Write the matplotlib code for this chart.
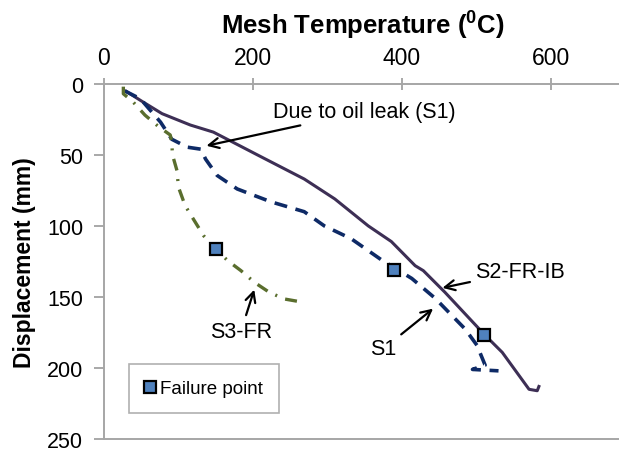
import matplotlib
matplotlib.use("Agg")
import matplotlib.pyplot as plt
from matplotlib.lines import Line2D

plt.rcParams['font.family'] = ['Liberation Sans', 'DejaVu Sans']
plt.rcParams['mathtext.fontset'] = 'custom'
plt.rcParams['mathtext.rm'] = 'Liberation Sans'
plt.rcParams['mathtext.bf'] = 'Liberation Sans:bold'

# S2-FR-IB (solid)
s2_temp = [28, 50, 78, 116, 147, 206, 269, 310, 355, 386, 418, 429, 458, 504, 517,
           535, 571, 582, 585]
s2_disp = [4.7, 12, 21, 29, 34, 50, 67, 81, 100, 111, 128, 131.5, 146.7, 172.5, 179.6,
           189, 215, 216, 212]

# S1 (dashed)
s1_temp = [28, 49, 76, 91, 112, 130, 136.5, 152, 179, 224, 269, 296, 332, 373, 413.5,
           445, 463, 485, 501, 512, 495, 530]
s1_disp = [5, 10.6, 27, 39, 44.6, 46, 53, 64.5, 74, 83, 90, 100, 109, 124, 137,
           151, 160.7, 172.5, 184, 198, 201, 202]

# S3-FR (dash-dot)
s3_temp = [26, 26, 39, 55, 73, 89, 91, 92, 98, 100, 109, 121, 134, 150, 166, 184,
           202, 222, 242, 267]
s3_disp = [2, 7, 12.7, 22, 30, 36, 41, 50, 61, 72.7, 85.7, 96, 107, 116, 124.4, 131.5,
           139.7, 146.7, 151.4, 153.7]

# failure points
fail_temp = [150, 390, 510]
fail_disp = [116, 131, 177]

fig = plt.figure(figsize=(6.19, 4.56), dpi=100)
ax = fig.add_axes([0.168, 0.035, 0.837, 0.779])

ax.plot(s2_temp, s2_disp, color='#3d2f55', lw=2.2, solid_capstyle='butt')
ax.plot(s1_temp, s1_disp, color='#0e2a66', lw=2.6, dashes=(3.6, 2.4))
ax.plot(s3_temp, s3_disp, color='#5a6e2e', lw=2.4, dashes=(3.6, 2.6, 0.6, 2.6))
ax.plot(fail_temp, fail_disp, ls='none', marker='s', ms=9, mfc='#4f81bd',
        mec='black', mew=1.6, zorder=5)

ax.set_xlim(0, 696)
ax.set_ylim(250, 0)
ax.set_xticks([0, 200, 400, 600])
ax.set_yticks([0, 50, 100, 150, 200, 250])
ax.xaxis.tick_top()
ax.xaxis.set_label_position('top')
ax.tick_params(axis='x', direction='inout', length=8, width=1.2, color='#999999',
               labelsize=16.5, pad=6.5)
ax.tick_params(axis='y', direction='out', length=7, width=1.2, color='#999999',
               labelsize=15.5, pad=8)
for side in ['top', 'left', 'bottom']:
    ax.spines[side].set_color('#a6a6a6')
    ax.spines[side].set_linewidth(1.4)
ax.spines['right'].set_visible(False)

ax.set_xlabel(r'Mesh Temperature ($^{\mathbf{0}}$C)', fontsize=18.5, fontweight='bold',
              labelpad=10)
ax.set_ylabel('Displacement (mm)', fontsize=16.5, fontweight='bold', labelpad=8)

arrow = dict(arrowstyle='->', color='black', lw=1.6, mutation_scale=18)
ax.annotate('Due to oil leak (S1)', xy=(134, 44), xytext=(227, 19.5),
            fontsize=15.5, va='center', ha='left', arrowprops=arrow)
ax.annotate('S2-FR-IB', xy=(451, 144), xytext=(499, 132),
            fontsize=15.5, va='center', ha='left', arrowprops=arrow)
ax.annotate('S1', xy=(445, 157), xytext=(375, 186.6),
            fontsize=15.5, va='center', ha='center', arrowprops=arrow)
ax.annotate('S3-FR', xy=(203, 143), xytext=(184, 174),
            fontsize=15.5, va='center', ha='center', arrowprops=arrow)

handle = Line2D([], [], ls='none', marker='s', ms=8, mfc='#4f81bd', mec='black',
                mew=1.6)
leg = ax.legend([handle], ['Failure point'], loc='lower left',
                bbox_to_anchor=(0.048, 0.073), borderaxespad=0, fancybox=False,
                framealpha=1, edgecolor='#b0b0b0', fontsize=13.5, handlelength=0.6,
                handletextpad=0.2, borderpad=0.85)
leg.get_frame().set_linewidth(1.2)

fig.savefig('out.png', dpi=100)
